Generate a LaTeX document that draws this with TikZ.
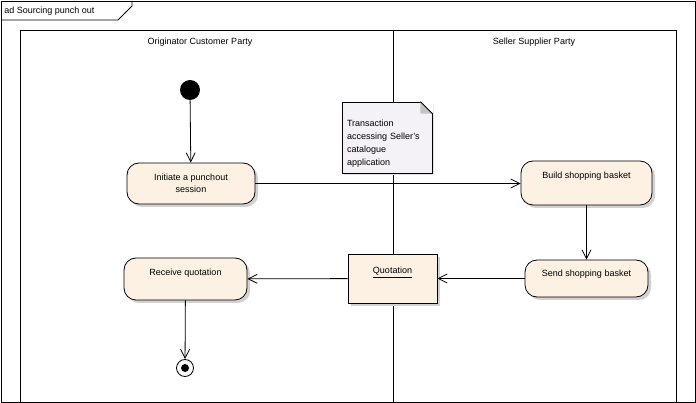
\documentclass[tikz,border=0pt]{standalone}
\usepackage{fontspec}
\setmainfont{Liberation Sans}
\usetikzlibrary{arrows.meta}
\usetikzlibrary{shadows}
\definecolor{actfill}{RGB}{252,241,227}
\definecolor{notefill}{RGB}{244,242,247}
\definecolor{foldgray}{RGB}{196,196,196}
\definecolor{shadowgray}{RGB}{210,210,210}
\tikzstyle{txt} = [font=\fontsize{9}{12}\selectfont, inner sep=0pt]
\tikzstyle{act} = [draw, fill=actfill, rounded corners=12pt,
    drop shadow={shadow xshift=3pt, shadow yshift=-3pt, fill=shadowgray, opacity=1},
    align=center, inner sep=3pt, font=\fontsize{9}{12}\selectfont]
\tikzstyle{objbox} = [draw, fill=actfill,
    drop shadow={shadow xshift=3pt, shadow yshift=-3pt, fill=shadowgray, opacity=1},
    inner sep=3pt, font=\fontsize{9}{12}\selectfont]
\tikzstyle{notebox} = [draw, fill=notefill, align=left, text width=80pt,
    inner xsep=5pt, font=\fontsize{9}{13}\selectfont,
    drop shadow={shadow xshift=2pt, shadow yshift=-2pt, fill=shadowgray!70, opacity=1}]
\tikzset{>={Straight Barb[length=9pt,width=9pt]}}

\begin{document}
\begin{tikzpicture}[x=1pt, y=-1pt, line width=0.8pt]
\useasboundingbox (0,0) rectangle (696,403);
    %frame
    \draw (1,1) rectangle (695,402);
    \draw (1,20) -- (118,20) -- (132,6) -- (132,1);
    \node[txt, anchor=west] (title) at (4,11) {ad Sourcing punch out};
    \draw (20,402) -- (20,30) -- (676,30) -- (676,402);
    \draw (393,30) -- (393,402);
    %lanes
    \node[txt] (cust) at (200,42) {Originator Customer Party};
    \node[txt] (sell) at (534,42) {Seller Supplier Party};
    %nodes
    \node[circle, fill=black, minimum size=20pt, inner sep=0pt] (init) at (190,90) {};
    \node[act, minimum width=128pt, minimum height=41pt] (initiate) at (191,183.5)
        {Initiate a punchout\\session};
    \node[act, minimum width=131pt, minimum height=44pt, text depth=16pt] (build) at (586.5,183)
        {Build shopping basket};
    \node[act, minimum width=123pt, minimum height=37pt, text depth=11pt] (send) at (586.5,278.5)
        {Send shopping basket};
    \node[objbox, minimum width=89pt, minimum height=49pt, text depth=16pt] (quote) at (392.5,278.5)
        {\underline{Quotation}};
    \node[act, minimum width=123pt, minimum height=42pt, text depth=13pt] (receive) at (185.5,279)
        {Receive quotation};
    \node[circle, draw, fill=white, minimum size=17pt, inner sep=0pt,
        path picture={\fill[black] (path picture bounding box.center) circle (4pt);}] (final) at (185,368) {};
    %note
    \node[notebox, minimum height=71pt] (note) at (387,137.5)
        {\rule{0pt}{19pt}Transaction\\accessing Seller's\\catalogue\\application};
    \fill[white] ([xshift=-12pt]note.north east) -- ([xshift=1pt,yshift=1pt]note.north east)
        -- ([xshift=1pt,yshift=-12pt]note.north east) -- cycle;
    \fill[foldgray] ([xshift=-12pt]note.north east) -- ([xshift=-12pt,yshift=-12pt]note.north east)
        -- ([yshift=-12pt]note.north east) -- cycle;
    \draw ([xshift=-12pt]note.north east) -- ([yshift=-12pt]note.north east);
    %lines
    \draw[->] (init) -- (initiate);
    \draw[->] (initiate.east) -- (build.west |- initiate.east);
    \draw[->] (build) -- (send);
    \draw[->] (send) -- (quote);
    \draw[->] (quote) -- (receive);
    \draw[->] (receive) -- (final);
\end{tikzpicture}
\end{document}
